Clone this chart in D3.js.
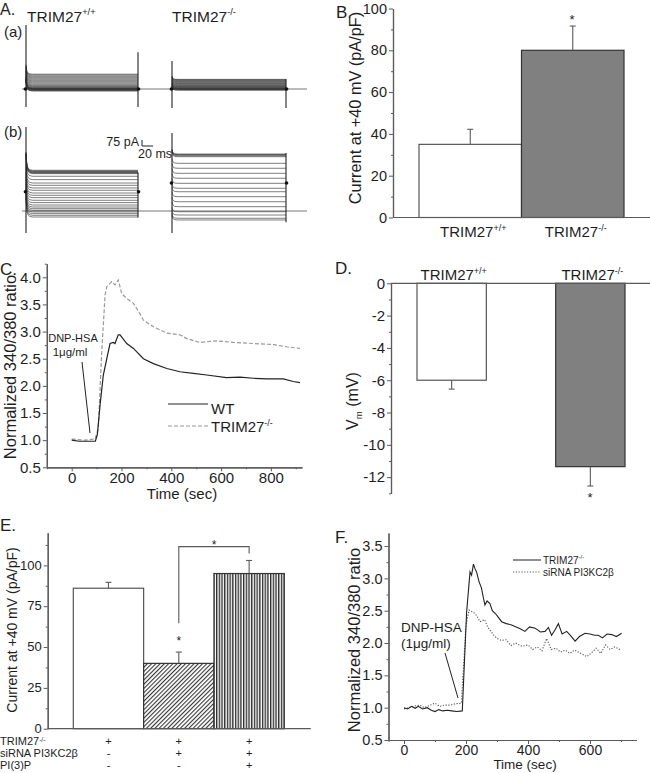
<!DOCTYPE html>
<html>
<head>
<meta charset="utf-8">
<script src="https://cdn.jsdelivr.net/npm/d3@7/dist/d3.min.js"></script>
<style>
html,body{margin:0;padding:0;background:#fff;}
svg{display:block;font-family:"Liberation Sans",Arial,Helvetica,sans-serif;}
</style>
</head>
<body>
<svg id="fig" width="650" height="773"></svg>
<script>
// ====================== DATA ======================
// Panel A – whole-cell current families: steady-state level of each sweep (pA)
const aWtSweepsA = [-25,-20,-15,-10,-6,-3,0,2,4,6,10,15,22,30,40,50,62,75,88,100,112,125,138,150,162,175,185];
const aKoSweepsA = [-15,-10,-6,-3,0,3,6,10,15,20,26,32,38,45,52,60,68,76,84,92,100,108,115,120];
const aWtSweepsB = [-75,-54,-33,-12,9,29,50,75,105,134,167,196,225,259,288,321,350,392,434,467,475,480,488,495,500,509];
const aKoSweepsB = [-112,-91,-50,-9,54,116,179,241,284,346,409,471,534,596,679,690,700,705,712];
const transientMs   = [0, 1, 2, 4, 7, 12];
const transientFrac = [1, 0.5, 0.25, 0.1, 0.03, 0];
const aOvershoot = [120, 40, 230, 60];                       // WT(a), KO(a), WT(b), KO(b)
const aSpikeOn  = [[800,-225],[350,-237],[1050,-275],[975,-275]];
const aSpikeOff = [[460,-225],[125,-237],[480,-80],[725,-140]];
const aHolding  = [0, 0, 240, 350];
const aPulseMs  = [0, 200];
const aScalePA = 75, aScaleMs = 20;

// Panel B – current at +40 mV
const groupsB = ["+/+", "-/-"];
const currentB = [35, 80];
const currentBErr = [7.2, 11.6];

// Panel C – normalized 340/380 ratio
const cWtTime  = [0,30,60,95,103,114,127,141,154,167,174,187,194,221,248,288,328,382,435,489,542,622,676,730,783,850,890,917];
const cWtRatio = [1.0,0.98,0.98,0.98,1.1,1.65,2.2,2.5,2.78,2.8,2.78,2.94,2.94,2.78,2.69,2.5,2.41,2.32,2.26,2.23,2.2,2.15,2.16,2.14,2.13,2.13,2.08,2.06];
const cKoTime  = [0,50,94,107,120,134,141,161,174,187,201,221,248,274,288,328,382,435,462,515,582,649,730,810,863,917];
const cKoRatio = [1.02,1.0,1.02,1.22,2.57,3.67,3.83,3.92,3.86,3.95,3.7,3.61,3.52,3.33,3.21,3.09,2.97,2.94,2.87,2.8,2.83,2.8,2.78,2.76,2.72,2.69];
const cYTicks = [0.5,1.0,1.5,2.0,2.5,3.0,3.5,4.0];
const cXTicks = [0,200,400,600,800];

// Panel D – membrane potential
const groupsD = ["+/+", "-/-"];
const vmD = [-6.0, -11.35];
const vmDErr = [0.55, 1.2];

// Panel E – current at +40 mV
const groupsE = ["c1","c2","c3"];
const currentE = [86, 40, 95];
const currentEErr = [3.6, 6.9, 8];
const eRowLabels = ["TRIM27", "siRNA PI3KC2\u03b2", "PI(3)P"];
const eSigns = [["+","+","+"],["-","+","+"],["-","-","+"]];

// Panel F – normalized 340/380 ratio
const fKoTime  = [0,12,24,36,46,60,75,88,100,112,125,140,154,170,188,202,213,218,224,229,234,242,250,256,261,268,277,285,294,304,315,330,347,360,375,390,405,423,440,455,466,476,487,498,510,525,540,552,566,584,600,615,627,640,655,670,685,702];
const fKoRatio = [1.0,0.98,1.02,0.99,1.02,0.98,1.0,0.96,0.94,0.97,0.95,0.96,0.95,0.94,0.95,2.48,3.1,3.05,3.22,3.15,3.1,2.95,2.85,2.7,2.59,2.65,2.61,2.5,2.46,2.4,2.33,2.3,2.28,2.25,2.22,2.18,2.25,2.23,2.17,2.18,2.24,2.12,2.2,2.3,2.14,2.18,2.1,2.03,2.1,2.15,2.14,2.12,2.12,2.08,2.14,2.13,2.1,2.15];
const fSiTime  = [0,15,30,50,65,80,100,115,130,150,165,185,200,210,225,235,245,260,270,280,290,300,315,330,345,360,380,400,415,430,445,460,475,490,505,520,535,550,570,590,605,620,635,650,665,680,700];
const fSiRatio = [0.98,1.0,1.02,1.04,1.0,1.03,1.07,1.02,1.04,1.04,1.06,1.07,2.28,2.51,2.47,2.42,2.33,2.36,2.25,2.18,2.12,2.07,2.04,2.05,1.96,2.0,1.95,1.97,1.9,1.94,1.88,2.07,1.9,1.92,1.86,1.89,1.84,1.89,1.84,1.79,1.85,1.92,1.84,1.97,1.9,1.94,1.89];
const fYTicks = [0.5,1.0,1.5,2.0,2.5,3.0,3.5];
const fXTicks = [0,200,400,600];

// ====================== DRAWING ======================
const svg = d3.select("#fig");
const AX = "#5a5a5a", TXT = "#1e1e1e";

function rich(parent, x, y, parts, size, anchor, extra, supRaise) {
  const t = parent.append("text").attr("x", x).attr("y", y)
    .attr("font-size", size).attr("fill", TXT).attr("text-anchor", anchor || "start");
  if (extra) t.attr("transform", extra);
  parts.forEach(p => {
    const s = t.append("tspan").text(p.t);
    if (p.sup) s.attr("font-size", size * 0.6).attr("dy", -size * (supRaise || 0.42));
    else if (p.sub) s.attr("font-size", size * 0.6).attr("dy", size * 0.25);
    else if (p.back) s.attr("dy", p.back);
  });
  return t;
}
function plain(x, y, txt, size, anchor, extra) {
  const t = svg.append("text").attr("x", x).attr("y", y).text(txt)
    .attr("font-size", size).attr("fill", TXT).attr("text-anchor", anchor || "start");
  if (extra) t.attr("transform", extra);
  return t;
}
function styleAxis(g, fs) {
  g.selectAll(".domain").attr("stroke", AX).attr("stroke-width", 1.2);
  g.selectAll(".tick line").attr("stroke", AX).attr("stroke-width", 1);
  g.selectAll(".tick text").attr("fill", TXT).attr("font-size", fs)
    .attr("font-family", '"Liberation Sans",Arial,sans-serif');
}
function yAxis(scale, x, major, minor, fmt, fs) {
  const gm = svg.append("g").attr("transform", `translate(${x},0)`);
  gm.call(d3.axisLeft(scale).tickValues(minor).tickSize(2).tickSizeOuter(0).tickFormat(""));
  styleAxis(gm, fs);
  const g = svg.append("g").attr("transform", `translate(${x},0)`);
  g.call(d3.axisLeft(scale).tickValues(major).tickSize(4).tickSizeOuter(0).tickPadding(2).tickFormat(fmt));
  styleAxis(g, fs);
  return g;
}
function xAxis(scale, y, major, minor, fmt, fs) {
  const gm = svg.append("g").attr("transform", `translate(0,${y})`);
  gm.call(d3.axisBottom(scale).tickValues(minor).tickSize(2).tickSizeOuter(0).tickFormat(""));
  styleAxis(gm, fs);
  const g = svg.append("g").attr("transform", `translate(0,${y})`);
  g.call(d3.axisBottom(scale).tickValues(major).tickSize(4).tickSizeOuter(0).tickPadding(1).tickFormat(fmt));
  styleAxis(g, fs);
  return g;
}
function hline(x1, x2, y, color, w) {
  svg.append("line").attr("x1", x1).attr("x2", x2).attr("y1", y).attr("y2", y)
    .attr("stroke", color || AX).attr("stroke-width", w || 1.2);
}
function errBar(cx, y0, y1, cap) {
  svg.append("line").attr("x1", cx).attr("x2", cx).attr("y1", y0).attr("y2", y1).attr("stroke", AX).attr("stroke-width", 1.1);
  svg.append("line").attr("x1", cx - cap).attr("x2", cx + cap).attr("y1", y1).attr("y2", y1).attr("stroke", AX).attr("stroke-width", 1.1);
}
function star(x, yVisual, fs) { plain(x, yVisual + fs * 0.62, "*", fs, "middle"); }

// ---------- Panel A ----------
plain(0, 14.5, "A.", 16);
rich(svg, 27, 22, [{t:"TRIM27"},{t:"+/+",sup:true}], 15.5);
rich(svg, 172, 22, [{t:"TRIM27"},{t:"-/-",sup:true}], 15.5);
plain(4, 37, "(a)", 15);
plain(4, 137, "(b)", 15);

const xAL = d3.scaleLinear().domain(aPulseMs).range([26, 138]);
const xAR = d3.scaleLinear().domain(aPulseMs).range([172, 286]);
const yAa = d3.scaleLinear().domain([0, aScalePA]).range([89, 83]);
const yAb = d3.scaleLinear().domain([0, aScalePA]).range([211, 205]);
hline(22, 307, yAa(0), "#777", 1);
hline(22, 307, yAb(0), "#777", 1);

const families = [
  {sw: aWtSweepsA, x: xAL, y: yAa},
  {sw: aKoSweepsA, x: xAR, y: yAa},
  {sw: aWtSweepsB, x: xAL, y: yAb},
  {sw: aKoSweepsB, x: xAR, y: yAb}
];
families.forEach((f, i) => {
  const g = svg.append("g");
  const line = d3.line().x(d => f.x(d[0])).y(d => f.y(d[1]));
  f.sw.forEach(L => {
    const pts = transientMs.map((t, k) => [t, L + aOvershoot[i] * transientFrac[k]]);
    pts.push([aPulseMs[1], L]);
    g.append("path").attr("d", line(pts)).attr("fill", "none")
      .attr("stroke", "#383838").attr("stroke-width", 0.65);
  });
  g.append("path").attr("d", line([[aPulseMs[0], aSpikeOn[i][0]], [aPulseMs[0], aSpikeOn[i][1]]]))
    .attr("stroke", "#222").attr("stroke-width", 1.1);
  g.append("path").attr("d", line([[aPulseMs[1], aSpikeOff[i][0]], [aPulseMs[1], aSpikeOff[i][1]]]))
    .attr("stroke", "#222").attr("stroke-width", 1.1);
  [aPulseMs[0] - 1, aPulseMs[1] + 1].forEach(t => {
    g.append("circle").attr("cx", f.x(t)).attr("cy", f.y(aHolding[i])).attr("r", 1.8).attr("fill", "#111");
  });
});
// scale bar
{
  const sx = d3.scaleLinear().domain(aPulseMs).range([0, xAL(aPulseMs[1]) - xAL(aPulseMs[0])]);
  const x0 = 142, y0 = 146;
  const h = yAa(0) - yAa(aScalePA);
  svg.append("path").attr("d", `M${x0},${y0 - h}V${y0}H${x0 + sx(aScaleMs)}`)
    .attr("fill", "none").attr("stroke", "#222").attr("stroke-width", 1);
  plain(x0 - 3, 146, "75 pA", 12.5, "end");
  plain(138, 158, "20 ms", 12.5);
}

// ---------- Panel B ----------
plain(336, 18, "B.", 17);
const yB = d3.scaleLinear().domain([0, 100]).range([217.5, 8.5]);
const xB = d3.scaleBand().domain(groupsB).range([419, 624]);
currentB.forEach((v, i) => {
  svg.append("rect").attr("x", xB(groupsB[i])).attr("y", yB(v)).attr("width", xB.bandwidth())
    .attr("height", yB(0) - yB(v)).attr("fill", i ? "#808080" : "#fff")
    .attr("stroke", i ? "#333" : "#555").attr("stroke-width", 1.2);
  const cx = xB(groupsB[i]) + xB.bandwidth() / 2;
  errBar(cx, yB(v), yB(v + currentBErr[i]), 3);
  rich(svg, cx + 3, 237, [{t:"TRIM27"},{t:groupsB[i],sup:true}], 15, "middle");
});
yAxis(yB, 393, [0,20,40,60,80,100], [10,30,50,70,90], d => d, 14.5);
hline(393, 650, yB(0));
star(572, 16, 13);
plain(0, 0, "Current at +40 mV (pA/pF)", 16.3, "middle", "translate(361,108) rotate(-90)");

// ---------- Panel C ----------
plain(0, 275, "C.", 17);
const xC = d3.scaleLinear().domain([-100, 925]).range([46.8, 302]);
const yC = d3.scaleLinear().domain([0.5, 4.25]).range([467.3, 263.7]);
yAxis(yC, 46.8, cYTicks, [0.75,1.25,1.75,2.25,2.75,3.25,3.75,4.25], d3.format(".1f"), 15);
xAxis(xC, 467.3, cXTicks, [-100,100,300,500,700,900], d => d, 15);
const lineC = d3.line().x(d => xC(d[0])).y(d => yC(d[1]));
svg.append("path").attr("d", lineC(cKoTime.map((t, i) => [t, cKoRatio[i]])))
  .attr("fill", "none").attr("stroke", "#9a9a9a").attr("stroke-width", 1.2).attr("stroke-dasharray", "4,2");
svg.append("path").attr("d", lineC(cWtTime.map((t, i) => [t, cWtRatio[i]])))
  .attr("fill", "none").attr("stroke", "#222").attr("stroke-width", 1.2);
plain(182, 499, "Time (sec)", 15, "middle");
plain(0, 0, "Normalized 340/380 ratio", 16.5, "middle", "translate(15.5,367) rotate(-90)");
plain(73, 342, "DNP-HSA", 11, "middle");
plain(70, 356, "1\u03bcg/ml", 11.5, "middle");
svg.append("line").attr("x1", 82).attr("y1", 362).attr("x2", 90).attr("y2", 433).attr("stroke", "#222").attr("stroke-width", 1);
hline(168, 208, 404, "#222", 1.2);
svg.append("line").attr("x1", 168).attr("x2", 208).attr("y1", 426).attr("y2", 426)
  .attr("stroke", "#9a9a9a").attr("stroke-width", 1.2).attr("stroke-dasharray", "4,2");
plain(211, 414, "WT", 15);
rich(svg, 211, 432, [{t:"TRIM27"},{t:"-/-",sup:true}], 15);

// ---------- Panel D ----------
plain(335, 274, "D.", 17);
const yD = d3.scaleLinear().domain([-13, 0]).range([493.3, 283.3]);
const xD = d3.scaleBand().domain(groupsD).range([417, 625]).paddingInner(0.5);
vmD.forEach((v, i) => {
  svg.append("rect").attr("x", xD(groupsD[i])).attr("y", yD(0)).attr("width", xD.bandwidth())
    .attr("height", yD(v) - yD(0)).attr("fill", i ? "#808080" : "#fff")
    .attr("stroke", i ? "#333" : "#555").attr("stroke-width", 1.2);
  const cx = xD(groupsD[i]) + xD.bandwidth() / 2;
  errBar(cx, yD(v), yD(v - vmDErr[i]), 3);
  rich(svg, cx + 2, 280, [{t:"TRIM27"},{t:groupsD[i],sup:true}], 15, "middle");
});
yAxis(yD, 391, [0,-2,-4,-6,-8,-10,-12], [-1,-3,-5,-7,-9,-11,-13], d => String(d), 15);
hline(391, 650, yD(0));
star(590, 494, 13);
rich(svg, 0, 0, [{t:"V"},{t:"m",sub:true},{t:" (mV)",back:-16*0.25}], 16, "middle", "translate(358,401) rotate(-90)");

// ---------- Panel E ----------
plain(0, 531, "E.", 17);
const defs = svg.append("defs");
const pd = defs.append("pattern").attr("id", "diag").attr("patternUnits", "userSpaceOnUse")
  .attr("width", 3).attr("height", 3).attr("patternTransform", "rotate(45)");
pd.append("rect").attr("width", 3).attr("height", 3).attr("fill", "#fff");
pd.append("line").attr("x1", 0.6).attr("x2", 0.6).attr("y1", 0).attr("y2", 3).attr("stroke", "#222").attr("stroke-width", 1);
const pv = defs.append("pattern").attr("id", "vert").attr("patternUnits", "userSpaceOnUse")
  .attr("width", 2.7).attr("height", 4);
pv.append("rect").attr("width", 2.7).attr("height", 4).attr("fill", "#fff");
pv.append("line").attr("x1", 0.7).attr("x2", 0.7).attr("y1", 0).attr("y2", 4).attr("stroke", "#111").attr("stroke-width", 1.2);

const yE = d3.scaleLinear().domain([0, 120]).range([728.7, 532.7]);
const xE = d3.scaleBand().domain(groupsE).range([73.3, 284.3]);
const fillsE = ["#fff", "url(#diag)", "url(#vert)"];
currentE.forEach((v, i) => {
  svg.append("rect").attr("x", xE(groupsE[i])).attr("y", yE(v)).attr("width", xE.bandwidth())
    .attr("height", yE(0) - yE(v)).attr("fill", fillsE[i])
    .attr("stroke", i ? "#333" : "#555").attr("stroke-width", 1.2);
  const cx = xE(groupsE[i]) + xE.bandwidth() / 2;
  errBar(cx, yE(v), yE(v + currentEErr[i]), 3);
  eSigns.forEach((row, r) => plain(cx, 745 + r * 12, row[i], 11, "middle"));
});
const gE = yAxis(yE, 47.7, [0,25,50,75,100], [12.5,37.5,62.5,87.5,112.5], d => d, 13);
gE.selectAll(".tick text").attr("dy", "0.28em");
hline(47.7, 310.7, yE(0));
{
  const c1 = xE(groupsE[1]) + xE.bandwidth() / 2, c2 = xE(groupsE[2]) + xE.bandwidth() / 2;
  svg.append("path").attr("d", `M${c1},${yE(64.5)}V${yE(111.5)}H${c2}V${yE(107.3)}`)
    .attr("fill", "none").attr("stroke", AX).attr("stroke-width", 1.1);
  star(c1, 638, 12);
  star((c1 + c2) / 2, 542, 12);
}
rich(svg, 0, 745, [{t:eRowLabels[0]},{t:"-/-",sup:true}], 11, "start", null, 0.28);
plain(0, 757, eRowLabels[1], 11);
plain(0, 769, eRowLabels[2], 11);
plain(0, 0, "Current at +40 mV (pA/pF)", 14, "middle", "translate(17,630) rotate(-90)");

// ---------- Panel F ----------
plain(335, 543, "F.", 17);
const xF = d3.scaleLinear().domain([-50, 750]).range([388.5, 636.5]);
const yF = d3.scaleLinear().domain([0.5, 3.7]).range([740, 533.1]);
yAxis(yF, 388.5, fYTicks, [0.75,1.25,1.75,2.25,2.75,3.25], d3.format(".1f"), 14.5);
xAxis(xF, 740, fXTicks, [-50,100,300,500,700], d => d, 14);
const lineF = d3.line().x(d => xF(d[0])).y(d => yF(d[1]));
svg.append("path").attr("d", lineF(fSiTime.map((t, i) => [t, fSiRatio[i]])))
  .attr("fill", "none").attr("stroke", "#555").attr("stroke-width", 1.1).attr("stroke-dasharray", "1.2,1.6");
svg.append("path").attr("d", lineF(fKoTime.map((t, i) => [t, fKoRatio[i]])))
  .attr("fill", "none").attr("stroke", "#222").attr("stroke-width", 1.1);
plain(525, 769, "Time (sec)", 13.5, "middle");
plain(0, 0, "Normalized 340/380 ratio", 16.5, "middle", "translate(360,640) rotate(-90)");
plain(401, 632, "DNP-HSA", 13.5);
plain(401, 648, "(1\u03bcg/ml)", 13.5);
svg.append("line").attr("x1", 445).attr("y1", 653).attr("x2", 458).attr("y2", 698).attr("stroke", "#222").attr("stroke-width", 1);
hline(513, 541, 560, "#444", 1.2);
svg.append("line").attr("x1", 513).attr("x2", 541).attr("y1", 572).attr("y2", 572)
  .attr("stroke", "#555").attr("stroke-width", 1.1).attr("stroke-dasharray", "1.2,1.6");
rich(svg, 543, 563.5, [{t:"TRIM27"},{t:"-/-",sup:true}], 10);
plain(543, 575.5, "siRNA PI3KC2\u03b2", 10);
</script>
</body>
</html>
